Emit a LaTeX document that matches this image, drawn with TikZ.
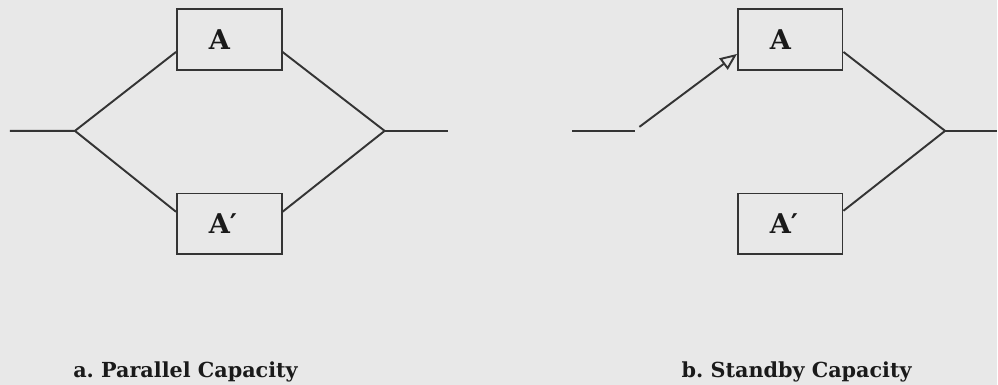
\documentclass[tikz,border=0pt]{standalone}
\usepackage{fontspec}
\setmainfont{DejaVu Serif}
\usetikzlibrary{arrows.meta}
\definecolor{paper}{RGB}{232,232,232}
\definecolor{ink}{RGB}{52,52,52}
\frenchspacing

\begin{document}
\begin{tikzpicture}[x=0.02cm,y=-0.02cm,
    box/.style={draw=ink,line width=0.9pt,minimum width=2.1cm,minimum height=1.22cm,
      inner xsep=0.64cm,text width=0.82cm,align=left,
      font=\fontsize{15.5}{18}\selectfont\bfseries,text=ink!50!black},
    wire/.style={draw=ink,line width=1.1pt},
    caption/.style={anchor=base west,inner sep=0pt,
      font=\fontsize{11.8}{14}\selectfont\bfseries,text=ink!50!black}]
  % paper
  \fill[paper] (0,0) rectangle (998,385);
  % a. parallel capacity
  \node[box] (A) at (229.5,39.5) {A};
  \node[box] (Ap) at (229.5,224) {A′};
  \coordinate (inA) at (10,131);
  \coordinate (splitA) at (75,131);
  \coordinate (joinA) at (385,131);
  \coordinate (outA) at (448,131);
  \draw[wire] (inA) -- (splitA) -- ([yshift=-0.25cm]A.west);
  \draw[wire] (splitA) -- ([yshift=0.24cm]Ap.west);
  \draw[wire] ([yshift=-0.25cm]A.east) -- (joinA) -- ([yshift=0.24cm]Ap.east);
  \draw[wire] (joinA) -- (outA);
  \node[caption] (capA) at (73,378) {a. Parallel Capacity};
  % b. standby capacity: the switch feeds A only
  \node[box] (B) at (791,39.5) {A};
  \node[box] (Bp) at (791,224) {A′};
  \coordinate (inB) at (573,131);
  \coordinate (stubB) at (636,131);
  \coordinate (switchB) at (640,127);
  \coordinate (joinB) at (946,131);
  \coordinate (outB) at (998,131);
  \draw[wire] (inB) -- (stubB);
  \draw[wire,-{Triangle[open,length=0.34cm,width=0.28cm]}] (switchB) -- ([yshift=-0.29cm]B.west);
  \draw[wire] ([yshift=-0.25cm]B.east) -- (joinB) -- ([yshift=0.26cm]Bp.east);
  \draw[wire] (joinB) -- (outB);
  \node[caption] (capB) at (682,378) {b. Standby Capacity};
\end{tikzpicture}
\end{document}
